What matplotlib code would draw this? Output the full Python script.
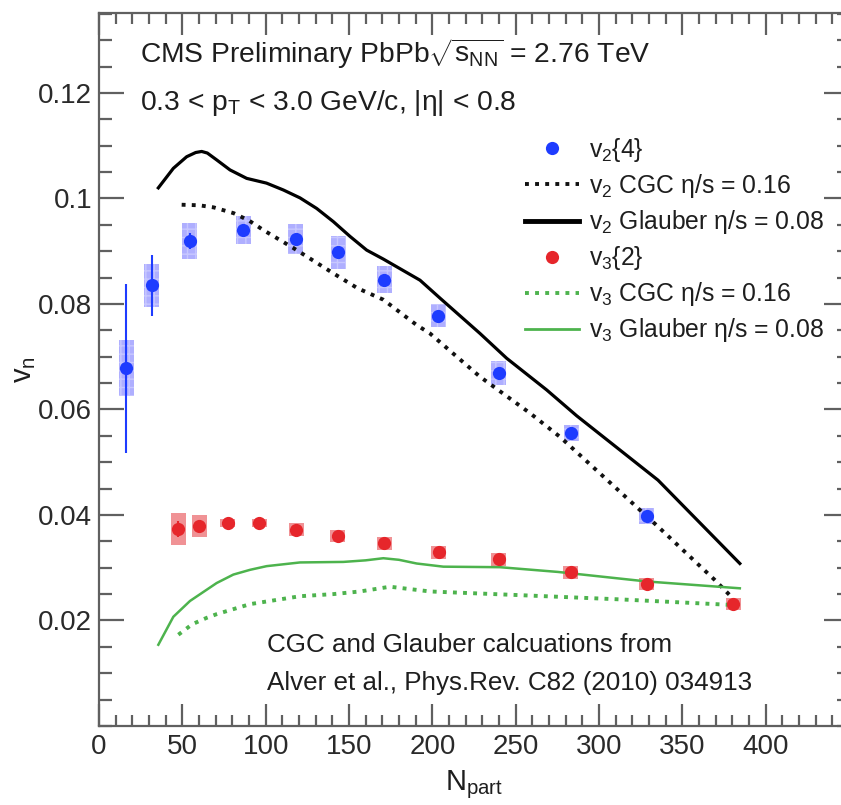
import matplotlib
matplotlib.use('Agg')
import matplotlib.pyplot as plt
from matplotlib.lines import Line2D
from matplotlib.patches import Rectangle
from matplotlib.ticker import MultipleLocator, FixedLocator

plt.rcParams['font.family'] = ['Liberation Sans', 'DejaVu Sans']
plt.rcParams['mathtext.fontset'] = 'custom'
plt.rcParams['mathtext.rm'] = 'Liberation Sans'
plt.rcParams['mathtext.it'] = 'Liberation Sans:italic'
plt.rcParams['mathtext.bf'] = 'Liberation Sans:bold'
plt.rcParams['mathtext.sf'] = 'Liberation Sans'

# ---------------- data ----------------
v2_npart = [16.4, 31.6, 54.4, 86.6, 118.0, 143.6, 171.0, 203.5, 240.0, 283.2, 328.5]
v2_val = [0.0678, 0.0835, 0.0920, 0.0940, 0.0923, 0.0898, 0.0846, 0.0778, 0.0669, 0.0555, 0.0398]
v2_stat = [0.0160, 0.0057, 0.0015, 0.0010, 0.0010, 0.0010, 0.0010, 0.0008, 0.0008, 0.0006, 0.0006]
v2_sys = [0.0053, 0.0040, 0.0034, 0.0027, 0.0028, 0.0031, 0.0026, 0.0022, 0.0022, 0.0015, 0.0015]

v3_npart = [47.6, 60.2, 77.2, 96.2, 118.2, 143.2, 171.2, 204.0, 240.0, 283.0, 328.5, 380.5]
v3_val = [0.0373, 0.0379, 0.0385, 0.0385, 0.0372, 0.0360, 0.0346, 0.0329, 0.0316, 0.0291, 0.0269, 0.0231]
v3_stat = [0.0015, 0.0012, 0.0005, 0.0005, 0.0004, 0.0004, 0.0004, 0.0004, 0.0004, 0.0004, 0.0004, 0.0004]
v3_sys = [0.0030, 0.0020, 0.0007, 0.0007, 0.0012, 0.0012, 0.0012, 0.0012, 0.0012, 0.0012, 0.0012, 0.0012]

v2_glauber_x = [35.6, 44.6, 52.6, 58.0, 61.6, 65.0, 70.6, 78.6, 88.6, 100.5, 110.6, 120.6, 130.6, 140.6, 150.6,
                160.6, 170.6, 192.6, 204.6, 228.6, 244.6, 268.6, 286.6, 335.4, 384.5]
v2_glauber_y = [0.1020, 0.1057, 0.1079, 0.1087, 0.1089, 0.1086, 0.1073, 0.1054, 0.1038, 0.1029, 0.1016, 0.1001,
                0.0981, 0.0956, 0.0928, 0.0902, 0.0885, 0.0845, 0.0811, 0.0744, 0.0697, 0.0637, 0.0588, 0.0466,
                0.0308]

v2_cgc_x = [49.6, 60.0, 68.8, 80.8, 90.0, 98.6, 116.6, 140.6, 155.0, 170.6, 190.6, 198.6, 228.6, 258.6,
            276.6, 305.0, 335.4, 369.4, 379.4]
v2_cgc_y = [0.0988, 0.0987, 0.0983, 0.0972, 0.0958, 0.0940, 0.0906, 0.0858, 0.0830, 0.0808, 0.0760, 0.0744,
            0.0662, 0.0593, 0.0548, 0.0466, 0.0378, 0.0277, 0.0245]

v3_glauber_x = [35.6, 44.6, 50.6, 54.6, 70.6, 80.6, 90.6, 100.6, 120.6, 146.6, 160.0, 170.6, 180.0, 190.6,
                206.6, 240.6, 275.4, 328.5, 384.5]
v3_glauber_y = [0.0154, 0.0207, 0.0225, 0.0237, 0.0271, 0.0287, 0.0296, 0.0303, 0.0310, 0.0311, 0.0314, 0.0318,
                0.0315, 0.0308, 0.0302, 0.0301, 0.0292, 0.0274, 0.0261]

v3_cgc_x = [47.6, 56.0, 64.6, 70.6, 90.6, 120.6, 140.6, 156.6, 174.6, 190.6, 198.6, 252.6, 312.6, 382.6]
v3_cgc_y = [0.0173, 0.0193, 0.0205, 0.0212, 0.0231, 0.0246, 0.0250, 0.0255, 0.0264, 0.0258, 0.0255, 0.0248,
            0.0240, 0.0229]

x_ticks = [0, 50, 100, 150, 200, 250, 300, 350, 400]
y_ticks = [0.02, 0.04, 0.06, 0.08, 0.1, 0.12]
y_ticklabels = ['0.02', '0.04', '0.06', '0.08', '0.1', '0.12']

BLUE = '#1e3cff'
RED = '#e6262b'
GREEN = '#4db34d'
AXC = '#606060'
TXT = '#1e1e1e'

fig = plt.figure(figsize=(8.41, 8.05), dpi=100)
ax = fig.add_axes([99 / 841, 1 - 726 / 805, (849 - 99) / 841, (726 - 12.7) / 805])
ax.set_xlim(0, 450)
ax.set_ylim(0, 0.1352)

# systematic boxes
hw = 4.5
for x, y, s in zip(v2_npart, v2_val, v2_sys):
    ax.add_patch(Rectangle((x - hw, y - s), 2 * hw, 2 * s, facecolor='#7a7aff', alpha=0.6,
                           edgecolor='#d8d8ff', hatch='++', linewidth=0, zorder=2))
for x, y, s in zip(v3_npart, v3_val, v3_sys):
    ax.add_patch(Rectangle((x - hw, y - s), 2 * hw, 2 * s, facecolor='#e64a4e', alpha=0.6,
                           linewidth=0, zorder=2))

# theory curves
ax.plot(v2_glauber_x, v2_glauber_y, color='black', lw=2.3, zorder=3)
ax.plot(v2_cgc_x, v2_cgc_y, color='#111111', lw=2.8, linestyle=(0, (1.0, 1.6)), zorder=3)
ax.plot(v3_glauber_x, v3_glauber_y, color=GREEN, lw=1.8, zorder=3)
ax.plot(v3_cgc_x, v3_cgc_y, color=GREEN, lw=2.8, linestyle=(0, (1.0, 1.6)), zorder=3)

# data points
ax.errorbar(v2_npart, v2_val, yerr=v2_stat, fmt='o', color=BLUE, ms=9.5, elinewidth=1.5,
            capsize=0, zorder=4, markeredgewidth=0)
ax.errorbar(v3_npart, v3_val, yerr=v3_stat, fmt='o', color=RED, ms=9.5, elinewidth=1.5,
            capsize=0, zorder=4, markeredgewidth=0)

# axes styling
for sp in ax.spines.values():
    sp.set_color(AXC)
    sp.set_linewidth(1.6)
ax.xaxis.set_major_locator(FixedLocator(x_ticks))
ax.xaxis.set_minor_locator(MultipleLocator(10))
ax.yaxis.set_major_locator(FixedLocator(y_ticks))
ax.yaxis.set_minor_locator(MultipleLocator(0.005))
ax.set_yticklabels(y_ticklabels)
ax.tick_params(which='both', direction='in', top=True, right=True, color=AXC, width=1.6,
               labelsize=20, labelcolor='#2a2a2a')
ax.tick_params(axis='x', which='major', length=16, pad=6)
ax.tick_params(axis='x', which='minor', length=8)
ax.tick_params(axis='y', which='major', length=18, pad=5)
ax.tick_params(axis='y', which='minor', length=9)

ax.set_xlabel(r'N$_{\rm part}$', fontsize=21, color=TXT, labelpad=6)
ax.set_ylabel(r'v$_{\rm n}$', fontsize=21, color=TXT)
ax.yaxis.set_label_coords(-0.082, 0.5)

# texts
ax.text(24.6, 0.1257, r'CMS Preliminary PbPb$\sqrt{\mathrm{s}_{\mathrm{NN}}}$ = 2.76 TeV', fontsize=20.3,
        color=TXT, va='baseline', ha='left')
ax.text(24.6, 0.1168, r'0.3 < p$_{\mathrm{T}}$ < 3.0 GeV/c, |η| < 0.8', fontsize=20.3,
        color=TXT, va='baseline', ha='left')
ax.text(100.8, 0.01409, 'CGC and Glauber calcuations from', fontsize=18.7,
        color=TXT, va='baseline', ha='left')
ax.text(100.8, 0.00683, 'Alver et al., Phys.Rev. C82 (2010) 034913', fontsize=18.7,
        color=TXT, va='baseline', ha='left')

# legend
handles = [
    Line2D([], [], marker='o', color=BLUE, linestyle='none', ms=9.5, markeredgewidth=0),
    Line2D([], [], color='#111111', lw=2.8, linestyle=(0, (1.0, 1.6))),
    Line2D([], [], color='black', lw=3.5),
    Line2D([], [], marker='o', color=RED, linestyle='none', ms=9.5, markeredgewidth=0),
    Line2D([], [], color=GREEN, lw=2.8, linestyle=(0, (1.0, 1.6))),
    Line2D([], [], color=GREEN, lw=2.0),
]
labels = [
    r'v$_{2}${4}',
    r'v$_{2}$ CGC η/s = 0.16',
    r'v$_{2}$ Glauber η/s = 0.08',
    r'v$_{3}${2}',
    r'v$_{3}$ CGC η/s = 0.16',
    r'v$_{3}$ Glauber η/s = 0.08',
]
leg = ax.legend(handles, labels, loc='upper left', bbox_to_anchor=(0.568, 0.827),
                frameon=False, fontsize=17.8, handlelength=2.2, handletextpad=0.4,
                labelspacing=0.325, borderpad=0, borderaxespad=0)
for t in leg.get_texts():
    t.set_color(TXT)

fig.savefig('out.png', dpi=100)
